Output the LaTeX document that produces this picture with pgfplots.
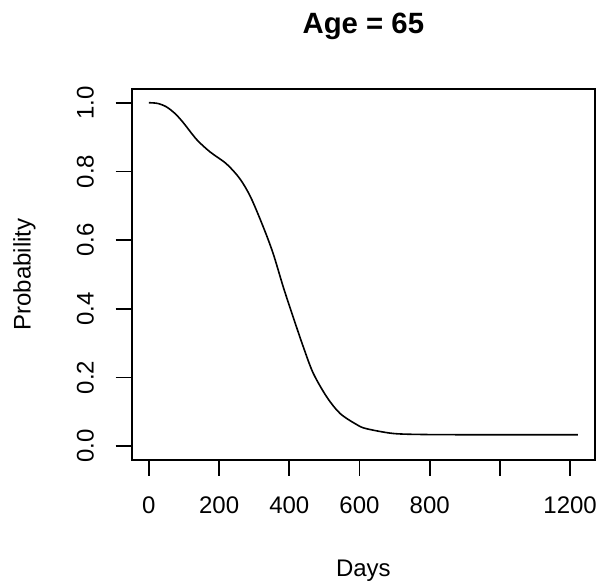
\documentclass[border=0pt]{standalone}
\usepackage{pgfplots}
\pgfplotsset{compat=1.18}
\usepackage{fontspec}
\setmainfont{Liberation Sans}
\begin{document}
\begin{tikzpicture}
\useasboundingbox (-98.8pt,-95.25pt) rectangle (349.75pt,345pt);
\begin{axis}[
  scale only axis,
  width=347.5pt, height=278.25pt,
  xmin=-48.9, xmax=1270.9, ymin=-0.04, ymax=1.04,
  axis line style={line width=1.2pt},
  xtick={0,200,400,600,800,1000,1200},
  xticklabels={0,200,400,600,800,,1200},
  ytick={0,0.2,0.4,0.6,0.8,1},
  yticklabels={0.0,0.2,0.4,0.6,0.8,1.0},
  xtick pos=bottom, ytick pos=left,
  tick align=outside,
  major tick length=12pt,
  every tick/.style={black, line width=1.2pt},
  /pgf/number format/assume math mode=true,
  tick label style={font=\fontsize{18pt}{21pt}\selectfont},
  xticklabel style={anchor=base, yshift=-28pt},
  yticklabel style={xshift=-16.5pt, rotate=90, anchor=base},
  label style={font=\fontsize{18pt}{21pt}\selectfont},
  xlabel={Days},
  ylabel={Probability},
  xlabel style={at={(axis description cs:0.5,-0.3154)}, anchor=base},
  ylabel style={at={(axis description cs:-0.218,0.5)}, anchor=base},
  title={Age = 65},
  title style={at={(axis description cs:0.5,1.128)}, anchor=base, font=\fontsize{22pt}{26pt}\selectfont\bfseries},
]
\addplot[black, line width=1.2pt, smooth, tension=0.5] coordinates {
(0,1.000) (25,0.998) (50,0.988) (75,0.968) (98,0.942) (136,0.893) (174,0.857)
(221,0.822) (259,0.779) (290,0.725) (326,0.638) (354,0.561) (383,0.463)
(411,0.376) (440,0.289) (468,0.213) (507,0.143) (545,0.095) (592,0.063)
(620,0.051) (697,0.037) (792,0.034) (900,0.0335) (1000,0.0335)
(1100,0.0335) (1222,0.0335)
};
\end{axis}
\end{tikzpicture}
\end{document}
